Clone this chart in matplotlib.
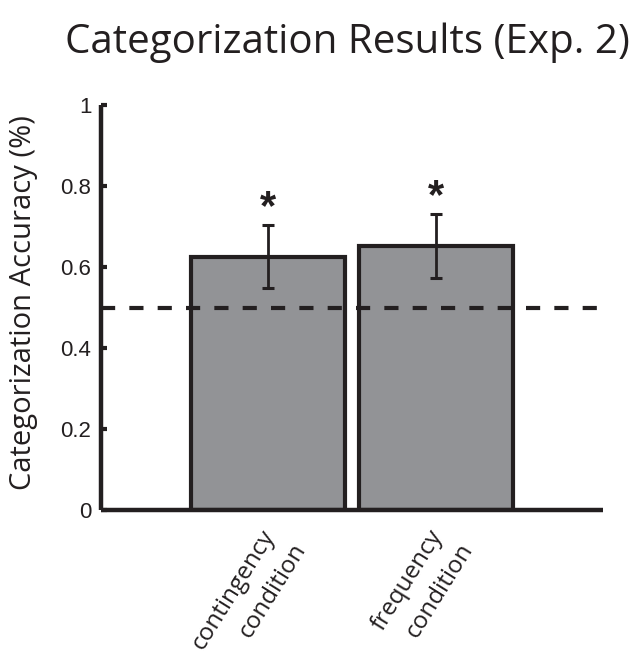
import math
import matplotlib
matplotlib.use("Agg")
import matplotlib.pyplot as plt
from matplotlib.font_manager import FontProperties

categories = [("contingency", "condition"), ("frequency", "condition")]
means = [0.625, 0.652]
errors = [0.078, 0.078]
chance = 0.5
yticks = [0, 0.2, 0.4, 0.6, 0.8, 1]
yticklabels = ["0", "0.2", "0.4", "0.6", "0.8", "1"]

DARK = "#231f20"
GRAY = "#929396"

fig = plt.figure(figsize=(6.36, 6.63), dpi=100)
ax = fig.add_axes([101/636, 1 - 510/663, 502/636, 405/663])

x = [1, 2]
ax.bar(x, means, width=0.92, color=GRAY, edgecolor=DARK, linewidth=3.0, zorder=2)
ax.errorbar(x, means, yerr=errors, fmt="none", ecolor=DARK, elinewidth=2.0,
            capsize=4, capthick=2.2, zorder=4)
ax.axhline(chance, color=DARK, linewidth=3.0, linestyle=(0, (3.4, 3.4)), zorder=3)

for xi, m, e in zip(x, means, errors):
    ax.text(xi, m + e - 0.006, "*", ha="center", va="bottom", fontsize=30,
            family="Liberation Sans", fontweight="bold", color=DARK)

ax.set_xlim(0, 3)
ax.set_ylim(0, 1)
ax.set_yticks(yticks)
ax.set_yticklabels(yticklabels, family="Liberation Sans", fontsize=16, color=DARK)
ax.set_xticks(x)
ax.set_xticklabels([])
ax.tick_params(axis="x", length=0)
ax.tick_params(axis="y", direction="in", length=4, width=3, color=DARK, pad=7)

# rotated two-line category labels
fs = 17.5
theta = 58
fp = FontProperties(family="Open Sans", size=fs)
u = (math.cos(math.radians(theta)), math.sin(math.radians(theta)))
p = (math.sin(math.radians(theta)), -math.cos(math.radians(theta)))
line_h = 24.0   # points between the two lines
fwd = 3.6       # second line ends slightly further along the baseline
anchor = (-6.0, -11.0)  # points from the tick: top-right corner of the first line
for xi, (l1, l2) in zip(x, categories):
    ax.annotate(l1, xy=(xi, 0), xycoords=("data", "axes fraction"),
                xytext=anchor, textcoords="offset points",
                rotation=theta, rotation_mode="anchor", ha="right", va="top",
                fontproperties=fp, color=DARK, annotation_clip=False)
    off2 = (anchor[0] + line_h * p[0] + fwd * u[0],
            anchor[1] + line_h * p[1] + fwd * u[1])
    ax.annotate(l2, xy=(xi, 0), xycoords=("data", "axes fraction"),
                xytext=off2, textcoords="offset points",
                rotation=theta, rotation_mode="anchor", ha="right", va="top",
                fontproperties=fp, color=DARK, annotation_clip=False)

for s in ["top", "right"]:
    ax.spines[s].set_visible(False)
for s in ["left", "bottom"]:
    ax.spines[s].set_linewidth(3.2)
    ax.spines[s].set_color(DARK)
    ax.spines[s].set_capstyle("butt")

ax.set_ylabel("Categorization Accuracy (%)", family="Open Sans",
              fontsize=21, color=DARK)
ax.yaxis.set_label_coords(-0.125, 0.511)

fig.text(0.546, 0.936, "Categorization Results (Exp. 2)", ha="center", va="center",
         family="Open Sans", fontsize=29, color=DARK)

fig.savefig("out.png", dpi=100)
